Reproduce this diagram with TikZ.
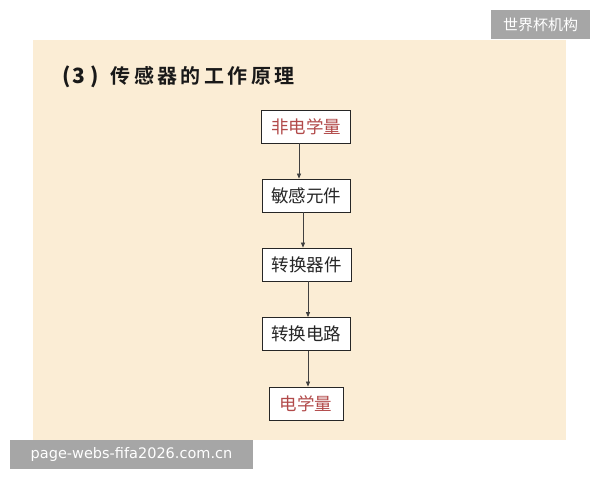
\documentclass[tikz,border=0pt]{standalone}
\usepackage{fontspec}
\setmainfont{Noto Sans CJK SC}
\newfontfamily\cjk{Noto Sans CJK SC}
\newfontfamily\cjkb{Noto Sans CJK SC Black}
\newfontfamily\cjkt[LetterSpace=17]{Noto Sans CJK SC Bold}
\newfontfamily\wm{DejaVu Sans}
\usetikzlibrary{arrows.meta}
\definecolor{panel}{HTML}{FBEDD5}
\definecolor{wmgray}{HTML}{A6A6A6}
\definecolor{redtxt}{HTML}{B24A4A}
\begin{document}
\begin{tikzpicture}[x=1pt,y=-1pt,
  stage/.style={draw=black!85,line width=0.8pt,fill=white,minimum height=33pt,inner sep=0pt,font=\cjk\fontsize{17.5}{18}\selectfont,text=black!85},
  flow/.style={draw=black!75,line width=0.7pt,-{Triangle[length=5pt,width=4pt]}},
  wmbox/.style={fill=wmgray,text=white,inner sep=0pt}]
\useasboundingbox (0,0) rectangle (600,480);
\fill[white] (0,0) rectangle (600,480);
\fill[panel] (33,40) rectangle (566,440);
\node[anchor=west,inner sep=0pt,font=\cjkt\fontsize{20}{21}\selectfont,text=black!90] (title) at (62,77) {{\cjkb\fontsize{21}{22}\selectfont(\kern2pt3\kern5pt)}\hspace{12pt}传感器的工作原理};
\node[stage,minimum width=89pt,text=redtxt] (a) at (306,126.5) {非电学量};
\node[stage,minimum width=88pt] (b) at (306,195.5) {敏感元件};
\node[stage,minimum width=89pt] (c) at (306.5,264.5) {转换器件};
\node[stage,minimum width=88pt] (d) at (306,334) {转换电路};
\node[stage,minimum width=74pt,text=redtxt] (e) at (306,403.5) {电学量};
\draw[flow] (a.south -| 299,0) -- (b.north -| 299,0);
\draw[flow] (b.south -| 303,0) -- (c.north -| 303,0);
\draw[flow] (c.south -| 308,0) -- (d.north -| 308,0);
\draw[flow] (d.south -| 308,0) -- (e.north -| 308,0);
\node[wmbox,minimum width=99pt,minimum height=29pt,font=\cjk\fontsize{15}{16}\selectfont] (wm1) at (540.5,24.5) {世界杯机构};
\node[wmbox,minimum width=243pt,minimum height=29pt,font=\wm\fontsize{14.5}{16}\selectfont] (wm2) at (131.5,454.5) {page-webs-fifa2026.com.cn};
\end{tikzpicture}
\end{document}
